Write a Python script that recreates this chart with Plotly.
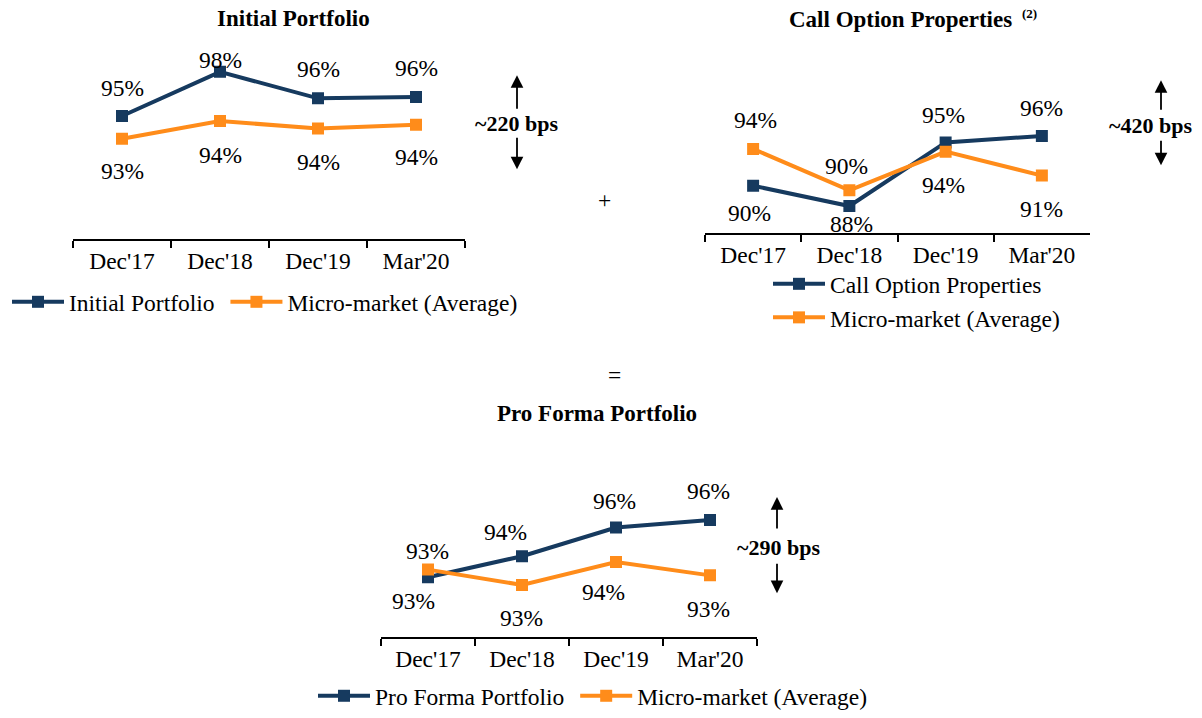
import plotly.graph_objects as go

W, H = 1202, 718

# ---- data -----------------------------------------------------------------
periods = ["Dec'17", "Dec'18", "Dec'19", "Mar'20"]

initial_portfolio = [94.8, 98.3, 96.2, 96.3]
initial_micro = [93.0, 94.4, 93.8, 94.1]

call_option = [90.2, 88.0, 94.9, 95.6]
call_micro = [94.2, 89.7, 93.9, 91.3]

pro_forma = [93.0, 94.1, 95.6, 96.0]
pro_forma_micro = [93.4, 92.6, 93.8, 93.1]

# ---- styling ----------------------------------------------------------------
NAVY = "#163a5f"
ORANGE = "#ff8c1a"
SERIF = "Liberation Serif"
FS = 23.5
NBSP = "\u00a0"


def px_x(x):
    return x / W


def px_y(y):
    return 1 - y / H


fig = go.Figure()

# panel boxes in pixels: (left, top, right, bottom) and value range of y axis
panels = [
    dict(box=(73, 50, 465, 241), yr=[85.07, 100.07]),
    dict(box=(705, 50, 1090, 235), yr=[85.1, 104.99]),
    dict(box=(381, 470, 757, 643), yr=[89.89, 98.85]),
]

series = [
    [("Initial Portfolio" + NBSP, initial_portfolio, NAVY), ("Micro-market (Average)", initial_micro, ORANGE)],
    [("Call Option Properties", call_option, NAVY), ("Micro-market (Average)", call_micro, ORANGE)],
    [("Pro Forma Portfolio" + NBSP, pro_forma, NAVY), ("Micro-market (Average)", pro_forma_micro, ORANGE)],
]

legend_names = ["legend", "legend2", "legend3"]

# label offsets (pixels, positive = downward) for each data label
label_dy = [
    [[-28, -12, -29, -29], [32, 34, 33, 32]],
    [[27, 18, -27, -28], [-29, -24, 33, 33]],
    [[24, -24, -27, -29], [-19, 33, 30, 34]],
]
label_dx = [
    [[0, 0, 0, 0], [0, 0, 0, 0]],
    [[-4, 2, -2, 0], [2, -3, -2, 0]],
    [[-15, -17, -2, -2], [-1, -1, -13, -2]],
]

annotations = []
for i, (panel, ser) in enumerate(zip(panels, series)):
    l, t, r, b = panel["box"]
    xa = "xaxis" if i == 0 else f"xaxis{i + 1}"
    ya = "yaxis" if i == 0 else f"yaxis{i + 1}"
    xref = "x" if i == 0 else f"x{i + 1}"
    yref = "y" if i == 0 else f"y{i + 1}"
    fig.layout[xa] = dict(
        domain=[px_x(l), px_x(r)], anchor=yref, type="category",
        range=[-0.5, 3.5], showline=True, linecolor="black", linewidth=2,
        ticks="outside", tickson="boundaries", ticklen=7, tickwidth=2,
        tickcolor="black", showgrid=False, zeroline=False,
        tickfont=dict(family=SERIF, size=FS, color="black"),
        fixedrange=True,
    )
    fig.layout[ya] = dict(
        domain=[px_y(b), px_y(t)], anchor=xref, range=panel["yr"],
        visible=False, showgrid=False, zeroline=False, fixedrange=True,
    )
    for j, (name, vals, color) in enumerate(ser):
        fig.add_trace(go.Scatter(
            x=periods, y=vals, name=name, mode="lines+markers",
            line=dict(color=color, width=4),
            marker=dict(symbol="square", size=12, color=color),
            xaxis=xref, yaxis=yref, legend=legend_names[i],
            hoverinfo="skip",
        ))
        for k, (p, v) in enumerate(zip(periods, vals)):
            annotations.append(dict(
                x=p, y=v, xref=xref, yref=yref, text=f"{v:.0f}%",
                showarrow=False, yshift=-label_dy[i][j][k],
                xshift=label_dx[i][j][k], xanchor="center", yanchor="middle",
                font=dict(family=SERIF, size=FS, color="black"),
            ))


def paper_text(text, x, y, size, **kw):
    return dict(x=px_x(x), y=px_y(y), xref="paper", yref="paper",
                xanchor="center", yanchor="middle", text=text,
                showarrow=False,
                font=dict(family=SERIF, size=size, color="black"), **kw)


# titles and connecting symbols
annotations.append(paper_text("<b>Initial Portfolio</b>", 293, 19, 23))
annotations.append(paper_text("<b>Call Option Properties</b>", 900, 20, 23))
annotations.append(paper_text("<b>(2)</b>", 1029, 14, 13))
annotations.append(paper_text("<b>Pro Forma Portfolio</b>", 597, 418, 23))
annotations.append(paper_text("+", 604, 202, FS))
annotations.append(paper_text("=", 614, 379, FS))

# gap callouts with up/down arrows
gaps = [
    ("~220 bps", 516, 125, 517, (76, 111), (138, 171)),
    ("~420 bps", 1150, 127, 1161, (81, 112), (141, 167)),
    ("~290 bps", 778, 553, 777, (502, 535), (568, 599)),
]
for text, tx, ty, ax_x, up, down in gaps:
    annotations.append(paper_text(f"<b>{text}</b>", tx, ty, 22))
    for tip, tail in [(up[0], up[1]), (down[1], down[0])]:
        annotations.append(dict(
            x=px_x(ax_x), y=px_y(tip), xref="paper", yref="paper",
            ax=0, ay=tail - tip, text="", showarrow=True,
            arrowhead=2, arrowsize=1.4, arrowwidth=1.8, arrowcolor="black",
        ))

legend_font = dict(family=SERIF, size=FS, color="black")
fig.update_layout(
    width=W, height=H,
    margin=dict(l=0, r=0, t=0, b=0),
    paper_bgcolor="white", plot_bgcolor="white",
    showlegend=True,
    annotations=annotations,
    legend=dict(orientation="h", x=px_x(7), y=px_y(305), xanchor="left",
                yanchor="middle", font=legend_font, itemwidth=52,
                bgcolor="rgba(0,0,0,0)", tracegroupgap=0),
    legend2=dict(orientation="v", x=px_x(768), y=px_y(304), xanchor="left",
                 yanchor="middle", font=legend_font, itemwidth=52,
                 bgcolor="rgba(0,0,0,0)", tracegroupgap=0),
    legend3=dict(orientation="h", x=px_x(313), y=px_y(703), xanchor="left",
                 yanchor="middle", font=legend_font, itemwidth=52,
                 bgcolor="rgba(0,0,0,0)", tracegroupgap=0),
)

fig.write_html("out.html", config=dict(displayModeBar=False))
